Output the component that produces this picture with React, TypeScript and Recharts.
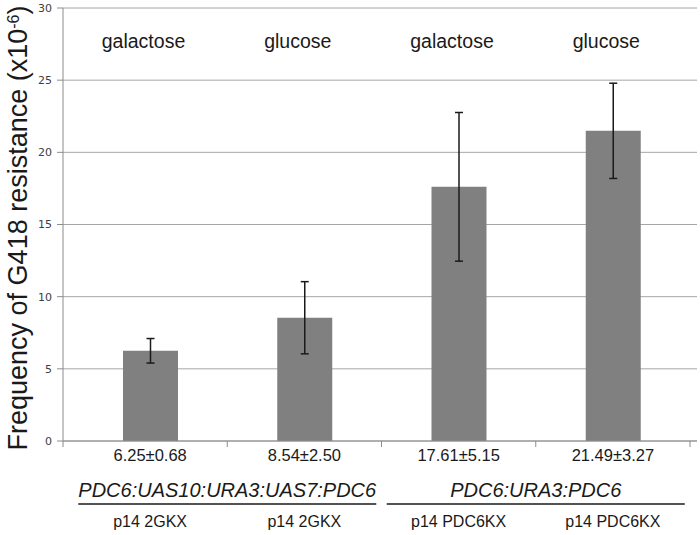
import React from 'react'
import { Bar, BarChart, CartesianGrid, ErrorBar, LabelList, XAxis, YAxis } from 'recharts'

// strains, one bar each
const strains = ['p14 2GKX', 'p14 2GKX', 'p14 PDC6KX', 'p14 PDC6KX']
const sugars = ['galactose', 'glucose', 'galactose', 'glucose']
const frequency = [6.25, 8.54, 17.61, 21.49]
const errors = [0.85, 2.5, 5.15, 3.3]
const valueLabels = ['6.25±0.68', '8.54±2.50', '17.61±5.15', '21.49±3.27']
// each construct covers two bars
const constructs = ['PDC6:UAS10:URA3:UAS7:PDC6', 'PDC6:URA3:PDC6']
const yTicks = [0, 5, 10, 15, 20, 25, 30]

const data = strains.map((strain, i) => ({
  key: String(i),
  strain,
  sugar: sugars[i],
  total: frequency[i],
  err: errors[i],
  label: valueLabels[i]
}))

const FONT = '"Liberation Sans", Arial, sans-serif'
const PAD_LEFT = 10
const AXIS_GREY = '#8c8c8c'

function CategoryTick(props: any) {
  const { x, y, index, payload } = props
  const half = payload && payload.offset > 0 ? payload.offset : 77
  const row = data[index]
  const tickX = index === 0 ? x - half - PAD_LEFT : x - half
  return (
    <g>
      <line x1={tickX} y1={y} x2={tickX} y2={y + 6} stroke={AXIS_GREY} />
      {index === data.length - 1 && (
        <line x1={x + half} y1={y} x2={x + half} y2={y + 6} stroke={AXIS_GREY} />
      )}
      <text x={x} y={y + 20} textAnchor="middle" fontSize={16.5} fontFamily={FONT} fill="#1a1a1a">
        {row.label}
      </text>
      {index % 2 === 0 && (
        <g>
          <text
            x={x + half}
            y={y + 56}
            textAnchor="middle"
            fontSize={20}
            fontStyle="italic"
            fontFamily={FONT}
            fill="#1a1a1a"
          >
            {constructs[index / 2]}
          </text>
          <line x1={x + half - 149} y1={y + 63} x2={x + half + 149} y2={y + 63} stroke="#1a1a1a" strokeWidth={1.5} />
        </g>
      )}
      <text x={x} y={y + 86} textAnchor="middle" fontSize={16} fontFamily={FONT} fill="#1a1a1a">
        {row.strain}
      </text>
    </g>
  )
}

const YTitle = () => (
  <text
    x={27}
    y={228}
    transform="rotate(-90, 27, 228)"
    textAnchor="middle"
    fontSize={27}
    fontFamily={FONT}
    fill="#1a1a1a"
  >
    Frequency of G418 resistance (x10
    <tspan baselineShift="super" fontSize={16}>-6</tspan>
    )
  </text>
)

const SugarLabel = (p: any) => (
  <text x={p.x + p.width / 2 - 7} y={48} textAnchor="middle" fontSize={19.5} fontFamily={FONT} fill="#1a1a1a">
    {p.value}
  </text>
)

export default function App() {
  return (
    <div style={{ position: 'absolute', left: 0, top: 0, background: '#fff' }}>
      <BarChart width={700} height={535} data={data} margin={{ top: 8, right: 3, left: 0, bottom: 0 }}>
        <CartesianGrid vertical={false} stroke="#a6a6a6" />
        <XAxis
          dataKey="key"
          height={94}
          padding={{ left: PAD_LEFT, right: 7 }}
          tickSize={0}
          tickMargin={0}
          axisLine={{ stroke: AXIS_GREY }}
          tickLine={false}
          interval={0}
          tick={<CategoryTick />}
        />
        <YAxis
          domain={[0, 30]}
          ticks={yTicks}
          interval={0}
          width={63}
          tickSize={6}
          tickMargin={5}
          axisLine={{ stroke: AXIS_GREY }}
          tickLine={{ stroke: AXIS_GREY }}
          tick={{ fontSize: 11, fill: '#404040', fontFamily: '"DejaVu Sans", Verdana, sans-serif' }}
          label={{ content: <YTitle /> }}
        />
        <Bar dataKey="total" barSize={55} fill="#808080" isAnimationActive={false}>
          <ErrorBar dataKey="err" direction="y" width={4} stroke="#1a1a1a" strokeWidth={1.5} />
          <LabelList dataKey="sugar" content={<SugarLabel />} />
        </Bar>
      </BarChart>
    </div>
  )
}
